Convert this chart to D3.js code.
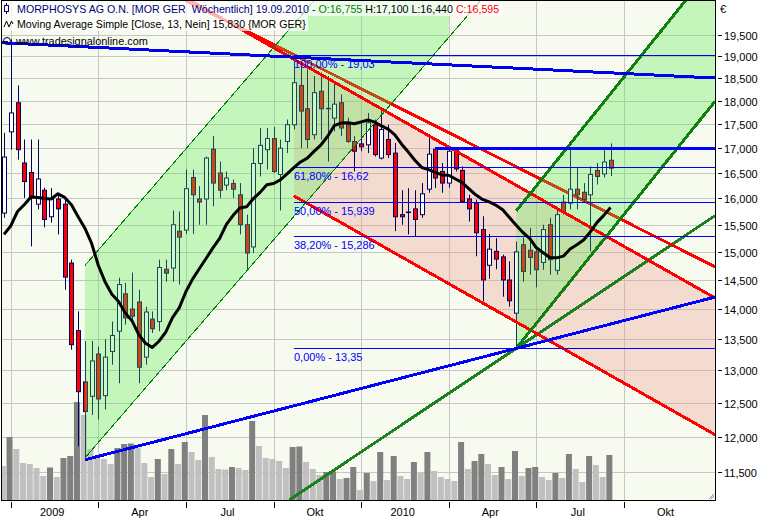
<!DOCTYPE html>
<html><head><meta charset="utf-8">
<script src="https://cdn.jsdelivr.net/npm/d3@7"></script>
<style>body{margin:0;background:#fff}svg{display:block}text{font-family:"Liberation Sans",Arial,sans-serif}</style>
</head><body>
<svg id="c" width="769" height="520"></svg>
<script>
// ---------- data (weekly bars, MOR GER) ----------
const startDate = new Date(2008, 11, 28);
const opens  = [15.72,17.34,17.96,16.70,16.51,15.89,16.16,15.65,15.99,15.89,14.80,13.64,12.82,12.60,13.26,12.61,13.30,13.63,14.26,14.00,14.12,13.21,13.83,13.79,14.69,14.71,15.38,15.40,16.41,15.99,15.99,16.98,16.50,16.26,16.29,16.07,15.50,15.09,16.69,16.97,17.20,16.47,17.14,17.49,18.34,17.83,17.28,18.21,17.84,17.63,17.96,17.49,17.14,17.09,17.07,17.49,16.80,17.18,16.90,15.69,15.74,15.80,15.69,16.18,16.98,16.53,16.30,16.97,16.55,15.99,15.91,15.41,14.76,15.01,14.91,14.50,13.93,15.13,15.03,15.00,14.81,15.50,14.67,15.93,15.91,16.18,16.12,16.07,16.55,16.48,16.755];
const highs  = [17.32,19.39,18.34,17.18,17.18,17.18,16.21,16.20,16.07,15.98,14.86,13.96,13.47,13.47,13.38,13.50,13.79,14.54,14.45,14.63,14.33,14.04,13.96,14.86,14.86,15.77,15.75,16.57,16.57,16.24,16.83,17.25,16.73,16.53,16.37,16.30,15.69,17.00,17.42,17.42,17.44,17.18,17.60,19.03,18.78,18.70,18.55,18.63,18.55,18.40,18.14,17.64,17.25,17.53,17.74,17.60,17.81,17.49,17.11,16.16,16.20,16.16,16.30,17.28,17.00,16.70,16.98,16.99,16.63,16.07,15.98,15.66,15.33,15.25,14.95,14.83,15.19,15.26,15.44,15.04,15.50,15.63,15.84,16.07,16.99,16.60,16.30,16.63,16.70,16.97,17.10];
const lows   = [15.63,16.97,16.77,16.01,15.10,15.79,15.45,15.54,15.32,14.33,13.33,11.86,11.67,12.32,12.25,12.40,13.09,12.80,13.74,13.77,12.80,13.09,13.60,13.63,14.47,14.47,14.42,15.33,15.33,15.50,15.50,15.85,16.01,16.16,16.01,15.32,14.68,14.98,16.43,16.57,16.50,15.77,16.90,17.39,17.00,17.00,17.18,17.18,16.73,17.35,17.25,17.11,16.53,16.94,16.90,16.83,16.77,16.80,15.38,15.50,15.32,15.28,15.63,16.11,16.20,16.11,16.21,16.53,15.92,15.56,14.92,14.13,14.52,14.69,14.21,14.04,13.35,14.47,14.59,14.37,14.68,14.59,14.59,15.69,15.79,15.79,15.91,15.01,16.27,16.41,16.44];
const closes = [16.82,17.74,16.97,16.33,16.04,16.38,15.60,15.99,15.80,14.55,13.41,12.67,12.37,13.15,12.56,13.21,13.56,14.42,13.85,13.88,13.05,13.95,13.67,14.72,14.62,15.50,15.27,16.19,16.07,15.93,16.80,16.30,16.16,16.40,16.18,15.50,14.98,16.69,17.06,17.20,16.53,17.00,17.49,18.40,17.78,17.18,18.18,17.83,17.83,17.93,17.42,17.14,16.94,17.03,17.53,16.87,17.39,16.87,15.65,15.65,15.73,15.60,16.09,16.88,16.40,16.30,16.94,16.58,15.94,15.80,15.35,14.50,15.05,14.87,14.50,14.14,15.00,14.65,14.90,14.68,15.41,14.86,15.69,15.75,16.18,16.07,15.98,16.47,16.43,16.72,16.595];
const volumes = [34,63,51,37,36,32,24,32.5,23,42,44,98,85,51,42,41,36,52,56,56.5,52.5,37,23,41,26,51,36,58,48,40,85,43,31,30.5,33,32,30,79,54,42,41,39,32,53,53.5,38,31,25,28,28.5,21,22,33,10,27,19,48,20,44,24,21,38,27,48,29,23,21,19,58,31,39,46,36,25,33,21,49,24,32,33,23,20,27,22,46,31,18,44,35,23,45];
// 13-week SMA values before 13 closes are available
const maLead = [15.32,15.48,15.75,15.88,16.03,16.02,16.00,15.99,16.09,16.02,15.88,15.65];
const maPeriod = 13;

const yTickValues = [11.5,12,12.5,13,13.5,14,14.5,15,15.5,16,16.5,17,17.5,18,18.5,19,19.5];
const xTickLabels = ["2009","Apr","Jul","Okt","2010","Apr","Jul","Okt"];

const fibPercents = ["100,00%","61,80%","50,00%","38,20%","0,00%"];
const fibLevels   = [19.03,16.62,15.939,15.286,13.35];
const fibStartBar = 43;

const resistanceLevel = 17.0, resistanceStartBar = 64;
// drawing-tool anchors: [bar index, price]
const longResistance = [[1,19.30],[90,18.62]];
const supportLine    = [[12,11.67],[76,13.35]];
const redLine        = [[43,19.03],[90,15.70]];
const fanLine        = [[76,13.35],[90,14.405]];
const upChannel1  = {a:[12,11.696], b:[36,14.658], off:[12,14.754], endBar:66};
const downChannel = {a:[43,18.93],  b:[90,15.24],  off:[43,16.05]};
const upChannel2  = {a:[76,13.35],  b:[90,15.38],  off:[76,15.76]};

const headerSegments = [
  ["MORPHOSYS AG O.N. [MOR GER  Wöchentlich] 19.09.2010 - ","#000080"],
  ["O:16,755 ","#008000"],
  ["H:17,100 L:16,440 ","#000000"],
  ["C:16,595","#ff0000"]
];
const maLegend = "Moving Average Simple [Close, 13, Nein] 15,830 {MOR GER}";
const siteText = "www.tradesignalonline.com";

// ---------- layout ----------
const L=2, R=715, T=0.5, B=500;
const svg = d3.select("#c");
const x = d3.scaleLinear().domain([-0.3,105.5]).range([L,R]);
const y = d3.scaleLog().domain([11.117,20.32]).range([B,T]);
const vScale = d3.scaleLinear().domain([0,100]).range([B,B-100]);
const n = closes.length;
const dates = d3.range(106).map(i=>d3.timeDay.offset(startDate,7*i));
const P = ([i,v]) => [x(i), y(v)];

svg.append("rect").attr("width",769).attr("height",520).attr("fill","#fff");
svg.append("defs").append("clipPath").attr("id","pc").append("rect")
  .attr("x",L).attr("y",T).attr("width",R-L).attr("height",B-T);
const g = svg.append("g").attr("clip-path","url(#pc)");
g.append("rect").attr("x",L).attr("y",T).attr("width",R-L).attr("height",B-T).attr("fill","#f7faee");

// grid
const q = d => Math.floor(d.getMonth()/3)+d.getFullYear()*4;
const tickBars = d3.range(1,100).filter(i=>q(dates[i])!==q(dates[i-1]));
g.selectAll(".hg").data(yTickValues).join("line")
  .attr("x1",L).attr("x2",R).attr("y1",d=>Math.round(y(d))+0.5).attr("y2",d=>Math.round(y(d))+0.5)
  .attr("stroke","#c6c6c6");
g.selectAll(".vg").data(tickBars).join("line")
  .attr("x1",d=>Math.round(x(d))+0.5).attr("x2",d=>Math.round(x(d))+0.5).attr("y1",T).attr("y2",B)
  .attr("stroke","#c6c6c6");

// volume
g.selectAll(".vol").data(volumes).join("rect")
  .attr("x",(d,i)=>x(i)-4.2).attr("width",6)
  .attr("y",d=>vScale(d)).attr("height",d=>B-vScale(d))
  .attr("fill",(d,i)=> i>0 && d>volumes[i-1] ? "#808080" : "#c0c0c0");

// geometry helpers
function clip(p0,p1,t0,t1){
  const dx=p1[0]-p0[0], dy=p1[1]-p0[1];
  const pp=[-dx,dx,-dy,dy], qq=[p0[0]-L,R-p0[0],p0[1]-T,B-p0[1]];
  for(let k=0;k<4;k++){
    if(pp[k]===0){ if(qq[k]<0) return null; }
    else { const r=qq[k]/pp[k]; if(pp[k]<0) t0=Math.max(t0,r); else t1=Math.min(t1,r); }
  }
  if(t0>t1) return null;
  return [[p0[0]+t0*dx,p0[1]+t0*dy],[p0[0]+t1*dx,p0[1]+t1*dy]];
}
function drawLine(p0,p1,t0,t1,color,w){
  const s=clip(p0,p1,t0,t1); if(!s) return;
  g.append("line").attr("x1",s[0][0]).attr("y1",s[0][1]).attr("x2",s[1][0]).attr("y2",s[1][1])
    .attr("stroke",color).attr("stroke-width",w).attr("shape-rendering","crispEdges");
}
function channelGeom(ch){
  const A=P(ch.a), Bp=P(ch.b), O=P(ch.off);
  const s=(Bp[1]-A[1])/(Bp[0]-A[0]);
  const dy=O[1]-(A[1]+s*(O[0]-A[0]));
  const base=xx=>A[1]+s*(xx-A[0]);
  return {A,B:Bp,A2:[A[0],A[1]+dy],B2:[Bp[0],Bp[1]+dy],base,par:xx=>base(xx)+dy};
}
function fillChannel(cg,x0,x1,color,op){
  g.append("path").attr("d",d3.line()([[x0,cg.base(x0)],[x1,cg.base(x1)],[x1,cg.par(x1)],[x0,cg.par(x0)]]))
   .attr("fill",color).attr("fill-opacity",op);
}

const dc = channelGeom(downChannel);
const c1 = channelGeom(upChannel1);
const c2 = channelGeom(upChannel2);

// pink down-channel fill
fillChannel(dc, dc.A[0], R+5, "rgb(238,150,140)", 0.3);
// lines under the fills
drawLine(P(fanLine[0]),P(fanLine[1]),-Infinity,Infinity,"#1c801c",3);
drawLine(P(redLine[0]),P(redLine[1]),-Infinity,Infinity,"#ff0000",3);

// candles
const cg = g.append("g");
d3.range(n).forEach(i=>{
  const cx=Math.round(x(i))+0.5;
  cg.append("line").attr("x1",cx).attr("x2",cx).attr("y1",y(highs[i])).attr("y2",y(lows[i]))
    .attr("stroke","#00005e").attr("stroke-width",1);
  const top=y(Math.max(opens[i],closes[i])), bot=y(Math.min(opens[i],closes[i]));
  cg.append("rect").attr("x",cx-2).attr("width",4).attr("y",top).attr("height",Math.max(bot-top,0.5))
    .attr("fill",closes[i]>=opens[i]?"#ffffff":"#ff0000").attr("stroke","#00005e").attr("stroke-width",1);
});

// green channel fills
fillChannel(c1, c1.A[0], x(upChannel1.endBar), "rgb(81,238,73)", 0.3);
fillChannel(c2, c2.A[0], R+5, "rgb(81,238,73)", 0.3);

// channel lines
drawLine(dc.A,dc.B,-Infinity,Infinity,"#ff0000",3);
drawLine(dc.A2,dc.B2,0,Infinity,"#ff0000",3);
drawLine(c1.A,c1.B,0,Infinity,"#008000",1);
drawLine(c1.A2,c1.B2,0,Infinity,"#008000",1);
drawLine(c2.A,c2.B,0,Infinity,"#0e800e",3);
drawLine(c2.A2,c2.B2,0,Infinity,"#0e800e",3);

// blue lines
drawLine(P(supportLine[0]),P(supportLine[1]),0,Infinity,"#0000ff",3);
drawLine(P(longResistance[0]),P(longResistance[1]),-Infinity,Infinity,"#0000ee",3);
drawLine([x(resistanceStartBar),y(resistanceLevel)],[R,y(resistanceLevel)],0,Infinity,"#0000ff",3);

// fibonacci
fibLevels.forEach((v,k)=>{
  const yy=Math.round(y(v))+0.5, x0=Math.round(x(fibStartBar));
  g.append("line").attr("x1",x0).attr("x2",R).attr("y1",yy).attr("y2",yy).attr("stroke","#0000ff").attr("stroke-width",1);
  g.append("text").attr("x",x0).attr("y",yy+12).attr("font-size",11).attr("fill","#0000ff")
    .text(fibPercents[k]+" - "+String(v).replace(".",","));
});

// moving average
const ma = closes.map((c,i)=> i<maPeriod-1 ? maLead[i] : d3.mean(closes.slice(i-maPeriod+1,i+1)));
g.append("path").attr("d",d3.line().x((d,i)=>x(i)).y(d=>y(d))(ma))
  .attr("fill","none").attr("stroke","#000").attr("stroke-width",3).attr("stroke-linejoin","round");

// header
const hb = svg.append("g");
hb.append("rect").attr("x",L).attr("y",1).attr("width",500).attr("height",15).attr("fill","#fff").attr("fill-opacity",0.7);
hb.append("rect").attr("x",L).attr("y",16).attr("width",306).attr("height",15).attr("fill","#fff").attr("fill-opacity",0.7);
hb.append("line").attr("x1",6.5).attr("x2",6.5).attr("y1",3).attr("y2",14).attr("stroke","#000080");
hb.append("rect").attr("x",4.5).attr("y",5.5).attr("width",4).attr("height",6).attr("fill","#fff").attr("stroke","#000080");
function fitText(sel, target){
  const w = sel.node().getComputedTextLength();
  sel.attr("font-size", 11*target/w);
}
const t1 = hb.append("text").attr("x",17).attr("y",13).attr("font-size",11).style("white-space","pre");
headerSegments.forEach(([s,c])=>t1.append("tspan").attr("fill",c).text(s));
fitText(t1,483);
hb.append("path").attr("d","M4,27 L6.5,21 L9,27 L11.5,21 L13,24").attr("fill","none").attr("stroke","#000").attr("stroke-width",1);
const t2 = hb.append("text").attr("x",17).attr("y",28).attr("font-size",11).attr("fill","#000").text(maLegend);
fitText(t2,289);
hb.append("circle").attr("cx",7).attr("cy",41).attr("r",3.5).attr("fill","none").attr("stroke","#000");
const t3 = hb.append("text").attr("x",16).attr("y",45).attr("font-size",11).attr("fill","#000").text(siteText);
fitText(t3,132);

// frame
svg.append("rect").attr("x",L-0.5).attr("y",0.5).attr("width",R-L+1).attr("height",B).attr("fill","none").attr("stroke","#000");

// y axis
const fmt = v => v.toFixed(3).replace(".",",");
yTickValues.forEach(v=>{
  const yy=Math.round(y(v))+0.5;
  svg.append("line").attr("x1",718).attr("x2",722).attr("y1",yy).attr("y2",yy).attr("stroke","#000");
  svg.append("text").attr("x",724).attr("y",yy+4).attr("font-size",11).attr("fill","#000").text(fmt(v));
});
svg.append("text").attr("x",720).attr("y",13).attr("font-size",11).attr("fill","#000").text("€");

// x axis
tickBars.forEach((b,k)=>{
  const xx=Math.round(x(b))+0.5;
  svg.append("line").attr("x1",xx).attr("x2",xx).attr("y1",502).attr("y2",508).attr("stroke","#000");
  svg.append("text").attr("x",x(b+6.15)).attr("y",516).attr("font-size",11).attr("text-anchor","middle").attr("fill","#000").text(xTickLabels[k]);
});
svg.append("path").attr("d","M709,499 L714,494 M711,499 L714,496").attr("stroke","#888").attr("fill","none");
</script>
</body></html>
